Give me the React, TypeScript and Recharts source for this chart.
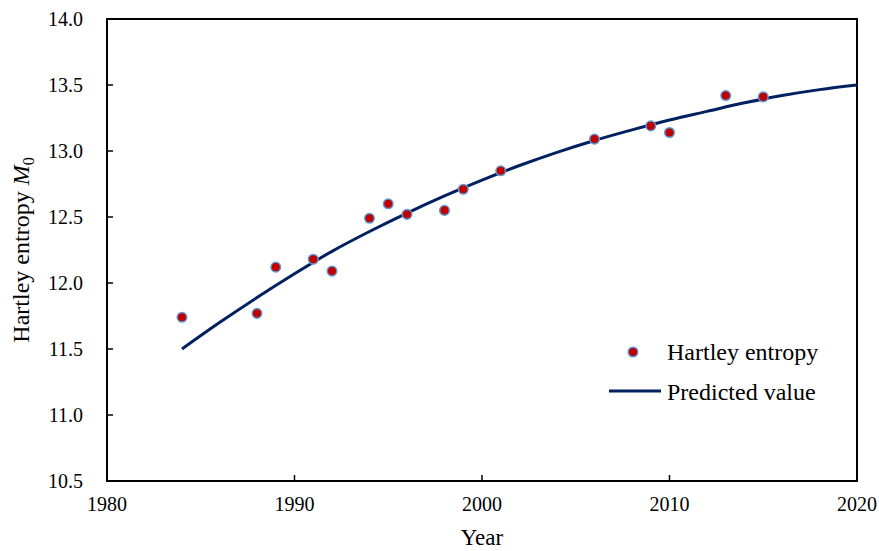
import React from 'react';
import { ComposedChart, Line, Scatter, XAxis, YAxis, ReferenceArea } from 'recharts';

const hartleyYears = [1984, 1988, 1989, 1991, 1992, 1994, 1995, 1996, 1998, 1999, 2001, 2006, 2009, 2010, 2013, 2015];
const hartleyValues = [11.74, 11.77, 12.12, 12.18, 12.09, 12.49, 12.6, 12.52, 12.55, 12.71, 12.85, 13.09, 13.19, 13.14, 13.42, 13.41];

const curveYears = [1984, 1986, 1988, 1990, 1992, 1994, 1996, 1998, 2000, 2002, 2004, 2006, 2008, 2010, 2012, 2014, 2016, 2018, 2020];
const curveValues = [11.5, 11.7, 11.89, 12.07, 12.24, 12.39, 12.53, 12.66, 12.78, 12.89, 12.99, 13.08, 13.16, 13.235, 13.3, 13.365, 13.42, 13.465, 13.5];

const xTicks = [1980, 1990, 2000, 2010, 2020];
const yTicks = [10.5, 11.0, 11.5, 12.0, 12.5, 13.0, 13.5, 14.0];

const seriesNames = ['Hartley entropy', 'Predicted value'];

const points = hartleyYears.map((x, i) => ({ x, y: hartleyValues[i] }));
const curve = curveYears.map((x, i) => ({ x, y: curveValues[i] }));

const FONT = '"Liberation Serif", "Times New Roman", serif';
const Y_MARGIN = 24;
const X_MARGIN = 16;

const YTick = (props: any) => {
  const { x, y, payload } = props;
  const ax = x + Y_MARGIN;
  return (
    <g>
      <line x1={ax} y1={y} x2={ax + 6} y2={y} stroke="#000" strokeWidth={1.5} />
      <text x={x} y={y} dy="0.35em" textAnchor="end" fontFamily={FONT} fontSize={20} fill="#000">
        {Number(payload.value).toFixed(1)}
      </text>
    </g>
  );
};

const XTick = (props: any) => {
  const { x, y, payload } = props;
  const ay = y - X_MARGIN;
  return (
    <g>
      <line x1={x} y1={ay} x2={x} y2={ay - 6} stroke="#000" strokeWidth={1.5} />
      <text x={x} y={y} dy="0.71em" textAnchor="middle" fontFamily={FONT} fontSize={20} fill="#000">
        {payload.value}
      </text>
    </g>
  );
};

const YLabel = (props: any) => {
  const vb = props.viewBox || {};
  const cx = vb.x + 29;
  const cy = vb.y + vb.height / 2;
  return (
    <text
      x={cx}
      y={cy}
      transform={`rotate(-90, ${cx}, ${cy})`}
      textAnchor="middle"
      fontFamily={FONT}
      fontSize={24}
      fill="#000"
    >
      Hartley entropy <tspan fontStyle="italic">M</tspan>
      <tspan fontSize={16} dy={5}>0</tspan>
    </text>
  );
};

const XLabel = (props: any) => {
  const vb = props.viewBox || {};
  return (
    <text
      x={vb.x + vb.width / 2}
      y={vb.y + 64}
      textAnchor="middle"
      fontFamily={FONT}
      fontSize={23}
      fill="#000"
    >
      Year
    </text>
  );
};

export default function App() {
  return (
    <div style={{ width: 879, height: 551, position: 'relative', background: '#fff' }}>
      <style>{'html,body{margin:0;padding:0;background:#fff;}'}</style>
      <ComposedChart
        width={879}
        height={551}
        margin={{ top: 19, right: 22, left: 0, bottom: 0 }}
        style={{ background: '#fff' }}
      >
        <ReferenceArea
          xAxisId="main"
          yAxisId="main"
          x1={1980}
          x2={2020}
          y1={10.5}
          y2={14}
          fill="none"
          fillOpacity={0}
          stroke="#000"
          strokeWidth={2}
          ifOverflow="extendDomain"
        />
        <XAxis
          xAxisId="main"
          dataKey="x"
          type="number"
          domain={[1980, 2020]}
          ticks={xTicks}
          allowDataOverflow
          height={70}
          tickSize={0}
          tickMargin={X_MARGIN}
          axisLine={false}
          tickLine={false}
          tick={<XTick />}
          label={<XLabel />}
        />
        <YAxis
          yAxisId="main"
          type="number"
          domain={[10.5, 14]}
          ticks={yTicks}
          allowDataOverflow
          width={107}
          tickSize={0}
          tickMargin={Y_MARGIN}
          axisLine={false}
          tickLine={false}
          tick={<YTick />}
          label={<YLabel />}
        />
        <Line
          xAxisId="main"
          yAxisId="main"
          data={curve}
          dataKey="y"
          type="monotone"
          stroke="#002060"
          strokeWidth={3}
          dot={false}
          activeDot={false}
          isAnimationActive={false}
        />
        <Scatter
          xAxisId="main"
          yAxisId="main"
          data={points}
          dataKey="y"
          fill="#C00000"
          isAnimationActive={false}
          shape={(p: any) => (
            <circle cx={p.cx} cy={p.cy} r={4.8} fill="#C00000" stroke="#5B9BD5" strokeWidth={1.5} />
          )}
        />
      </ComposedChart>
      <div style={{ position: 'absolute', left: 598, top: 333, width: 270, height: 90 }}>
        <svg width={270} height={90} style={{ display: 'block' }}>
          <circle cx={35} cy={19} r={4.8} fill="#C00000" stroke="#5B9BD5" strokeWidth={1.5} />
          <text x={69} y={27} fontFamily={FONT} fontSize={24} fill="#000">{seriesNames[0]}</text>
          <line x1={11} y1={58} x2={63} y2={58} stroke="#002060" strokeWidth={3} />
          <text x={69} y={67} fontFamily={FONT} fontSize={24} fill="#000">{seriesNames[1]}</text>
        </svg>
      </div>
    </div>
  );
}
